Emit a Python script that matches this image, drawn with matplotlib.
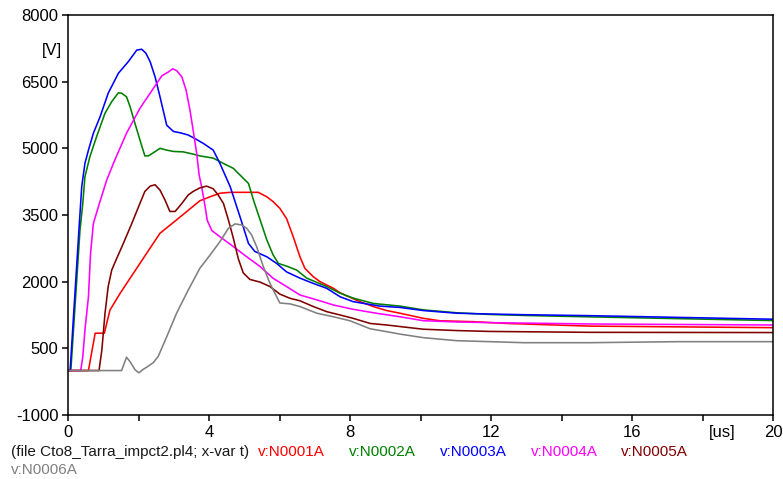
import matplotlib
matplotlib.use("Agg")
import matplotlib.pyplot as plt
import numpy as np

plt.rcParams['font.family'] = ['Liberation Sans', 'DejaVu Sans']

# Node voltages [V] versus time [us]
t_n0001a = [0, 0.58, 0.77, 1.03, 1.19, 1.48, 2.04, 2.61, 3.08, 3.74, 4.03, 4.31, 4.60, 5.40,
            5.64, 5.82, 6.01, 6.20, 6.39, 6.58, 6.72, 6.96, 7.15, 7.34, 7.53, 7.72, 7.91, 8.28,
            8.66, 9.04, 9.42, 10.08, 10.55, 11.5, 12.44, 14.81, 20]
v_n0001a = [0, 0, 840, 840, 1360, 1740, 2410, 3090, 3390, 3820, 3910, 3990, 4010, 4010,
            3910, 3800, 3650, 3420, 3010, 2560, 2300, 2110, 2000, 1925, 1850, 1750, 1680, 1550,
            1440, 1350, 1290, 1175, 1120, 1100, 1060, 1000, 965]

t_n0002a = [0, 0.08, 0.34, 0.42, 0.48, 0.62, 0.81, 1.05, 1.24, 1.43, 1.52, 1.66, 1.76, 1.90,
            2.04, 2.18, 2.28, 2.42, 2.61, 2.80, 2.99, 3.27, 3.55, 3.74, 4.12, 4.41, 4.69, 4.93,
            5.12, 5.26, 5.45, 5.64, 5.82, 5.97, 6.20, 6.49, 6.77, 7.01, 7.34, 7.72, 8.09, 8.66,
            9.42, 10.08, 11.03, 11.97, 12.92, 14.52, 20]
v_n0002a = [0, 0, 3160, 3760, 4360, 4810, 5260, 5790, 6050, 6250, 6240, 6160, 5940, 5560,
            5190, 4830, 4830, 4900, 5000, 4960, 4930, 4920, 4870, 4830, 4780, 4660, 4550, 4360,
            4210, 3840, 3390, 2940, 2600, 2410, 2350, 2260, 2080, 2000, 1890, 1740, 1630, 1510,
            1450, 1365, 1300, 1262, 1240, 1213, 1125]

t_n0003a = [0, 0.06, 0.31, 0.39, 0.48, 0.58, 0.72, 0.91, 1.14, 1.43, 1.71, 1.95, 2.09, 2.21,
            2.33, 2.47, 2.61, 2.80, 2.99, 3.18, 3.41, 3.60, 3.84, 4.12, 4.31, 4.60, 4.88, 5.12,
            5.30, 5.64, 5.92, 6.20, 6.58, 6.96, 7.34, 7.72, 8.09, 8.47, 8.85, 9.42, 10.08, 11.03,
            11.97, 12.92, 14.81, 20]
v_n0003a = [0, 0, 3160, 4140, 4660, 4960, 5340, 5710, 6240, 6690, 6950, 7210, 7230, 7140,
            6950, 6610, 6160, 5520, 5380, 5350, 5300, 5220, 5110, 4960, 4660, 4140, 3460, 2860,
            2680, 2560, 2410, 2220, 2080, 1960, 1850, 1660, 1550, 1500, 1450, 1420, 1350, 1290,
            1272, 1257, 1235, 1155]

t_n0004a = [0, 0.36, 0.42, 0.48, 0.58, 0.64, 0.72, 0.89, 1.10, 1.33, 1.66, 2.04, 2.33, 2.66,
            2.85, 2.97, 3.08, 3.23, 3.35, 3.46, 3.55, 3.65, 3.72, 3.79, 3.89, 3.95, 4.08, 4.31,
            4.69, 5.07, 5.45, 5.82, 6.20, 6.58, 7.06, 7.53, 8.09, 8.76, 9.42, 10.08, 11.03,
            11.97, 14.81, 20]
v_n0004a = [0, 0, 310, 910, 1660, 2640, 3310, 3760, 4290, 4740, 5340, 5900, 6240, 6630,
            6720, 6790, 6750, 6610, 6310, 5860, 5410, 4890, 4400, 4140, 3690, 3380, 3150, 3010,
            2790, 2560, 2340, 2075, 1890, 1700, 1590, 1475, 1378, 1288, 1210, 1122, 1093,
            1078, 1048, 1025]

t_n0005a = [0, 0.88, 0.96, 1.05, 1.14, 1.24, 1.38, 1.57, 1.81, 2.04, 2.18, 2.33, 2.47, 2.61,
            2.75, 2.89, 3.04, 3.23, 3.41, 3.55, 3.74, 3.93, 4.12, 4.26, 4.41, 4.55, 4.69, 4.83,
            4.97, 5.16, 5.45, 5.73, 6.01, 6.30, 6.58, 6.96, 7.34, 7.72, 8.09, 8.57, 9.04, 9.42,
            10.08, 11.03, 11.97, 14.81, 20]
v_n0005a = [0, 0, 460, 1290, 1890, 2260, 2520, 2860, 3310, 3760, 4030, 4150, 4180, 4060,
            3840, 3580, 3580, 3760, 3950, 4030, 4110, 4150, 4090, 3950, 3760, 3390, 2980, 2520,
            2200, 2050, 1990, 1890, 1720, 1625, 1570, 1440, 1325, 1250, 1175, 1060, 1025, 990,
            930, 900, 880, 860, 855]

t_n0006a = [0, 1.52, 1.66, 1.76, 1.90, 2.01, 2.14, 2.28, 2.42, 2.56, 2.80, 3.08, 3.41, 3.74,
            4.03, 4.31, 4.55, 4.74, 4.93, 5.07, 5.21, 5.35, 5.54, 5.73, 5.92, 6.01, 6.30, 6.58,
            7.06, 7.53, 8.00, 8.57, 9.04, 9.42, 10.08, 11.03, 11.97, 12.92, 14.81, 17.3, 20]
v_n0006a = [0, 0, 300, 200, 20, -50, 30, 100, 180, 320, 760, 1290, 1810, 2300,
            2600, 2900, 3200, 3300, 3275, 3200, 3050, 2790, 2340, 1960, 1660, 1520, 1500, 1440,
            1290, 1210, 1120, 940, 875, 820, 740, 672, 650, 627, 627, 650, 650]

series_names = ["v:N0001A", "v:N0002A", "v:N0003A", "v:N0004A", "v:N0005A", "v:N0006A"]
series_colors = ["#ff0000", "#008000", "#0000ff", "#ff00ff", "#800000", "#808080"]

y_ticks = [8000, 6500, 5000, 3500, 2000, 500, -1000]
x_ticks = [0, 2, 4, 6, 8, 10, 12, 14, 16, 18, 20]
x_tick_labels = ["0", "", "4", "", "8", "", "12", "", "16", "", "20"]

W, H = 783, 479
fig = plt.figure(figsize=(W / 100, H / 100), dpi=100)
ax = fig.add_axes([68 / W, 1 - 415 / H, 705 / W, 400 / H])

data = [(t_n0001a, v_n0001a), (t_n0002a, v_n0002a), (t_n0003a, v_n0003a),
        (t_n0004a, v_n0004a), (t_n0005a, v_n0005a), (t_n0006a, v_n0006a)]
for (t, v), c in zip(data, series_colors):
    ax.plot(t, v, color=c, lw=1.15, solid_joinstyle='round')

ax.set_xlim(0, 20)
ax.set_ylim(-1000, 8000)
ax.set_yticks(y_ticks)
ax.set_yticklabels([str(v) for v in y_ticks])
ax.set_xticks(x_ticks)
ax.set_xticklabels(x_tick_labels)
ax.tick_params(direction='out', length=4.5, width=1.1, labelsize=12, colors='black')
ax.tick_params(axis='y', pad=2.5)
ax.tick_params(axis='x', pad=3)
for s in ax.spines.values():
    s.set_linewidth(1.1)
    s.set_color('black')

ax.text((722 - 68) / 705, (415 - 433) / 400, "[us]", transform=ax.transAxes,
        ha='center', va='center', fontsize=12)
ax.text((52 - 68) / 705, (415 - 50) / 400, "[V]", transform=ax.transAxes,
        ha='center', va='center', fontsize=12)

fig.text(11 / W, 1 - 452 / H, "(file Cto8_Tarra_impct2.pl4; x-var t)", ha='left',
         va='center', fontsize=11, color='#1a1a1a')
legend_x = [258, 349, 440, 531, 621]
for name, c, x in zip(series_names[:5], series_colors[:5], legend_x):
    fig.text(x / W, 1 - 452 / H, name, ha='left', va='center', fontsize=11, color=c)
fig.text(11 / W, 1 - 470 / H, series_names[5], ha='left', va='center', fontsize=11,
         color=series_colors[5])

fig.savefig("out.png", dpi=100)
